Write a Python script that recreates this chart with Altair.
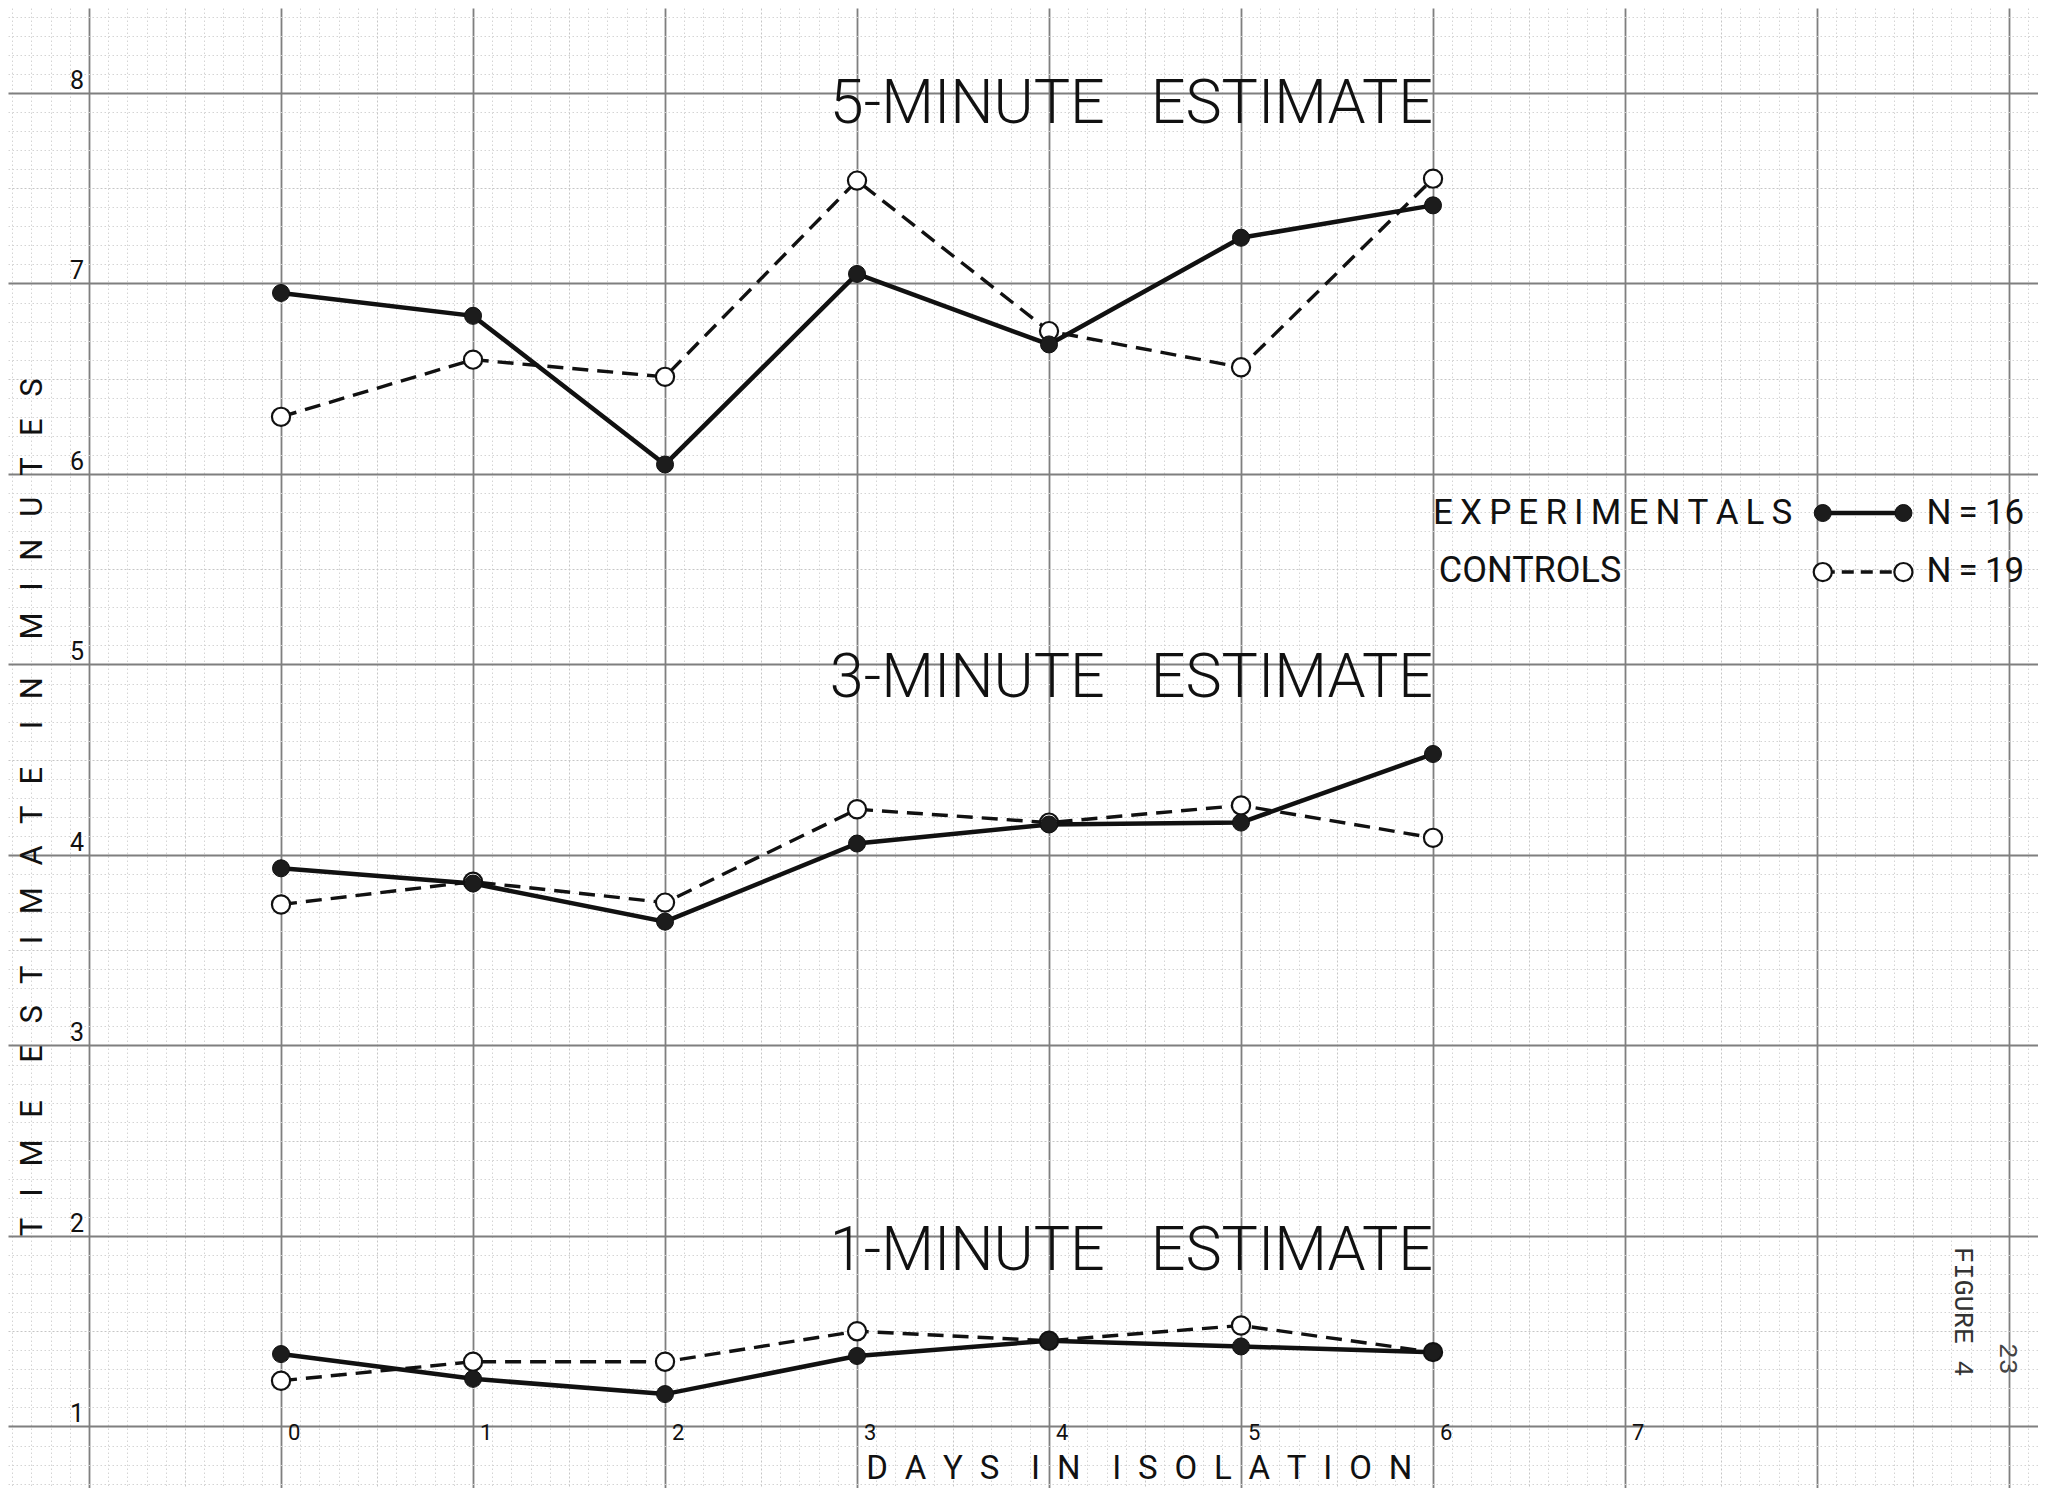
import altair as alt
import pandas as pd

# ---------------- values ----------------
days = [0, 1, 2, 3, 4, 5, 6]
exp_5min = [6.95, 6.83, 6.05, 7.05, 6.68, 7.24, 7.41]
ctl_5min = [6.30, 6.60, 6.51, 7.54, 6.75, 6.56, 7.55]
exp_3min = [3.93, 3.85, 3.65, 4.06, 4.16, 4.17, 4.53]
ctl_3min = [3.74, 3.86, 3.75, 4.24, 4.17, 4.26, 4.09]
exp_1min = [1.38, 1.25, 1.17, 1.37, 1.45, 1.42, 1.39]
ctl_1min = [1.24, 1.34, 1.34, 1.50, 1.45, 1.53, 1.39]

panel_titles = ["5-MINUTE ESTIMATE", "3-MINUTE ESTIMATE", "1-MINUTE ESTIMATE"]
x_tick_values = [0, 1, 2, 3, 4, 5, 6, 7]
x_tick_labels = ["0", "1", "2", "3", "4", "5", "6", "7"]
y_tick_values = [1, 2, 3, 4, 5, 6, 7, 8]
y_tick_labels = ["1", "2", "3", "4", "5", "6", "7", "8"]
legend_labels = ["EXPERIMENTALS", "CONTROLS"]
legend_counts = ["N=16", "N=19"]
x_title = "DAYS IN ISOLATION"
y_title = "TIME ESTIMATE IN MINUTES"
figure_label = "FIGURE 4"
page_number = "23"

# ---------------- layout (plot area fills the page like graph paper) ----------------
W, H = 2030, 1480
X_MIN, X_MAX = -1.422, 9.151
Y_MIN, Y_MAX = 0.677, 8.446

FONT = "Roboto"
INK = "#111111"
THIN = "\u2009"
EN = "\u2002"

# graph-paper grid: 10 small squares per unit
x_grid = [round(-1.4 + 0.1 * i, 1) for i in range(0, 106)]
y_grid = [round(0.7 + 0.1 * i, 1) for i in range(0, 78)]

major = "abs(datum.value - round(datum.value)) < 0.001"
half = "abs(2*datum.value - round(2*datum.value)) < 0.001"
grid_color = {"condition": [{"test": major, "value": "#7f7f7f"},
                            {"test": half, "value": "#c6c6c6"}], "value": "#d4d4d4"}
grid_width = {"condition": [{"test": major, "value": 1.8},
                            {"test": half, "value": 1.0}], "value": 1.0}
grid_dash = {"condition": [{"test": major, "value": []},
                           {"test": half, "value": [2, 2]}], "value": [1.5, 2.5]}

x_axis = alt.Axis(values=x_grid, grid=True, labels=False, ticks=False, domain=False, title="",
                  gridColor=grid_color, gridWidth=grid_width, gridDash=grid_dash)
y_axis = alt.Axis(values=y_grid, grid=True, labels=False, ticks=False, domain=False, title="",
                  gridColor=grid_color, gridWidth=grid_width, gridDash=grid_dash)
xs = alt.Scale(domain=[X_MIN, X_MAX], nice=False, zero=False)
ys = alt.Scale(domain=[Y_MIN, Y_MAX], nice=False, zero=False)


def X(field):
    return alt.X(f"{field}:Q", scale=xs, axis=x_axis)


def Y(field):
    return alt.Y(f"{field}:Q", scale=ys, axis=y_axis)


def spaced(s, gap, wordgap):
    return wordgap.join(gap.join(list(w)) for w in s.split(" "))


# ---------------- tables ----------------
rows = []
for est, e_vals, c_vals in [("5", exp_5min, ctl_5min), ("3", exp_3min, ctl_3min), ("1", exp_1min, ctl_1min)]:
    for d, v in zip(days, e_vals):
        rows.append({"day": d, "value": v, "group": "EXPERIMENTALS", "estimate": est})
    for d, v in zip(days, c_vals):
        rows.append({"day": d, "value": v, "group": "CONTROLS", "estimate": est})
df = pd.DataFrame(rows)
df_exp = df[df.group == "EXPERIMENTALS"]
df_ctl = df[df.group == "CONTROLS"]

titles_df = pd.DataFrame({"x": [6.0, 6.0, 6.0], "y": [7.84, 4.83, 1.82],
                          "text": [t.replace(" ", " " + EN) for t in panel_titles]})

xt_df = pd.DataFrame({"x": x_tick_values, "y": [1] * len(x_tick_values), "text": x_tick_labels})
yt_df = pd.DataFrame({"x": [-1] * len(y_tick_values), "y": y_tick_values, "text": y_tick_labels})

xtitle_df = pd.DataFrame({"x": [4.47], "y": [0.724],
                          "text": [spaced(x_title, EN, EN + " " + THIN)]})
ytitle_df = pd.DataFrame({"x": [-1.245], "y": [4.25],
                          "text": [spaced(y_title, " " + THIN + " ", " " + EN + " " + THIN)]})

leg_text_y = [5.735, 5.435]
leg_sym_y = [5.795, 5.485]
leg_exp_df = pd.DataFrame({"x": [6.0], "y": [leg_text_y[0]], "text": [spaced(legend_labels[0], THIN, " ")]})
leg_ctl_df = pd.DataFrame({"x": [6.03], "y": [leg_text_y[1]], "text": [legend_labels[1]]})
legn_df = pd.DataFrame({"x": [8.57, 8.57], "y": leg_text_y,
                        "text": [c.replace("=", THIN + "=" + THIN) for c in legend_counts]})
leg_line_df = pd.DataFrame({"x": [8.03, 8.03], "x2": [8.45, 8.45], "y": leg_sym_y, "group": legend_labels})
leg_pts = pd.DataFrame({"x": [8.03, 8.45, 8.03, 8.45], "y": [leg_sym_y[0]] * 2 + [leg_sym_y[1]] * 2,
                        "group": ["EXPERIMENTALS"] * 2 + ["CONTROLS"] * 2})

fig_df = pd.DataFrame({"x": [8.719], "y": [1.942], "text": [figure_label]})
page_df = pd.DataFrame({"x": [8.953], "y": [1.438], "text": [page_number]})

# ---------------- layers ----------------
grid_layer = alt.Chart(df).mark_point(opacity=0).encode(x=X("day"), y=Y("value"))

ctl_line = alt.Chart(df_ctl).mark_line(color=INK, strokeWidth=3.4, strokeDash=[16, 9]).encode(
    x=X("day"), y=Y("value"), detail="estimate:N")
exp_line = alt.Chart(df_exp).mark_line(color=INK, strokeWidth=4.5).encode(
    x=X("day"), y=Y("value"), detail="estimate:N")
ctl_pts = alt.Chart(df_ctl).mark_circle(fill="white", stroke=INK, strokeWidth=2.2, size=330, opacity=1).encode(
    x=X("day"), y=Y("value"))
exp_pts = alt.Chart(df_exp).mark_circle(color="#1c1c1c", stroke=INK, strokeWidth=1, size=290, opacity=1).encode(
    x=X("day"), y=Y("value"))

title_layer = alt.Chart(titles_df).mark_text(font=FONT, fontWeight=300, fontSize=61, align="right",
                                             baseline="alphabetic", color=INK).encode(
    x=X("x"), y=Y("y"), text="text:N")

xt_layer = alt.Chart(xt_df).mark_text(font=FONT, fontWeight=400, fontSize=22, align="left", baseline="top",
                                      dx=7, dy=-3, color=INK).encode(x=X("x"), y=Y("y"), text="text:N")
yt_layer = alt.Chart(yt_df).mark_text(font=FONT, fontWeight=400, fontSize=25, align="right",
                                      baseline="alphabetic", dx=-5, dy=-4, color=INK).encode(
    x=X("x"), y=Y("y"), text="text:N")

xtitle_layer = alt.Chart(xtitle_df).mark_text(font=FONT, fontWeight=400, fontSize=33, align="center",
                                              baseline="alphabetic", color=INK).encode(
    x=X("x"), y=Y("y"), text="text:N")
ytitle_layer = alt.Chart(ytitle_df).mark_text(font=FONT, fontWeight=400, fontSize=31, align="center",
                                              baseline="alphabetic", angle=270, color=INK).encode(
    x=X("x"), y=Y("y"), text="text:N")

leg_exp_text = alt.Chart(leg_exp_df).mark_text(font=FONT, fontWeight=400, fontSize=35, align="left",
                                               baseline="alphabetic", color=INK).encode(
    x=X("x"), y=Y("y"), text="text:N")
leg_ctl_text = alt.Chart(leg_ctl_df).mark_text(font=FONT, fontWeight=400, fontSize=36, align="left",
                                               baseline="alphabetic", color=INK).encode(
    x=X("x"), y=Y("y"), text="text:N")
legn_layer = alt.Chart(legn_df).mark_text(font=FONT, fontWeight=400, fontSize=35, align="left",
                                          baseline="alphabetic", color=INK).encode(
    x=X("x"), y=Y("y"), text="text:N")
leg_rule_exp = alt.Chart(leg_line_df[leg_line_df.group == "EXPERIMENTALS"]).mark_rule(
    color=INK, strokeWidth=4.5).encode(x=X("x"), x2="x2:Q", y=Y("y"))
leg_rule_ctl = alt.Chart(leg_line_df[leg_line_df.group == "CONTROLS"]).mark_rule(
    color=INK, strokeWidth=3.4, strokeDash=[12, 7]).encode(x=X("x"), x2="x2:Q", y=Y("y"))
leg_ctl_pts = alt.Chart(leg_pts[leg_pts.group == "CONTROLS"]).mark_circle(
    fill="white", stroke=INK, strokeWidth=2.2, size=330, opacity=1).encode(x=X("x"), y=Y("y"))
leg_exp_pts = alt.Chart(leg_pts[leg_pts.group == "EXPERIMENTALS"]).mark_circle(
    color="#1c1c1c", stroke=INK, strokeWidth=1, size=290, opacity=1).encode(x=X("x"), y=Y("y"))

fig_layer = alt.Chart(fig_df).mark_text(font="Liberation Mono", fontSize=27, align="left",
                                        baseline="alphabetic", angle=90, color="#333333").encode(
    x=X("x"), y=Y("y"), text="text:N")
page_layer = alt.Chart(page_df).mark_text(font="Liberation Mono", fontSize=26, align="left",
                                          baseline="alphabetic", angle=90, color="#444444").encode(
    x=X("x"), y=Y("y"), text="text:N")

chart = alt.layer(
    grid_layer, ctl_line, exp_line, ctl_pts, exp_pts,
    title_layer, xt_layer, yt_layer, xtitle_layer, ytitle_layer,
    leg_rule_exp, leg_rule_ctl, leg_ctl_pts, leg_exp_pts, leg_exp_text, leg_ctl_text, legn_layer,
    fig_layer, page_layer,
).properties(
    width=W, height=H, padding=0,
    autosize=alt.AutoSizeParams(type="none"),
    background="white",
).configure_view(strokeWidth=0)

chart.save("out.html", embed_options={"renderer": "svg", "actions": False})
